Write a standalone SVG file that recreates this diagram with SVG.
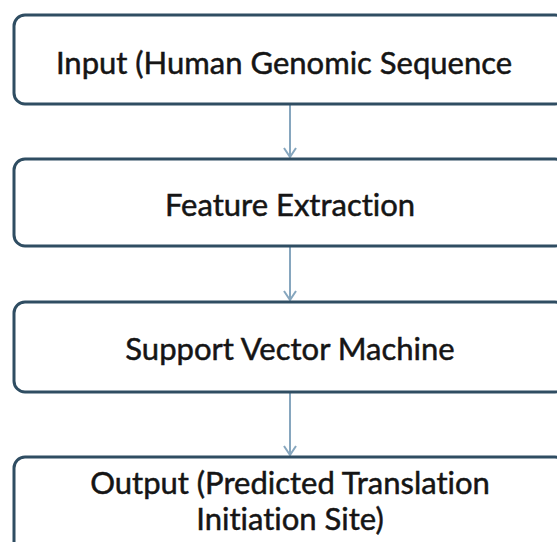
<svg xmlns="http://www.w3.org/2000/svg" width="557" height="542" viewBox="0 0 557 542">
  <defs>
    <style>
      .box { fill: #ffffff; stroke: #2f4d62; stroke-width: 3; }
      .label { font-family: Lato, "Open Sans", "Liberation Sans", sans-serif; font-size: 31px; fill: #151515; stroke: #151515; stroke-width: 0.5; text-anchor: middle; font-variant-ligatures: none; font-feature-settings: "liga" 0, "dlig" 0; }
      .link { stroke: #86a6be; stroke-width: 2; fill: none; }
    </style>
    <marker id="chevron" viewBox="0 0 12 14" refX="11" refY="7" markerWidth="12" markerHeight="14" markerUnits="userSpaceOnUse" orient="auto">
      <path d="M2 1 L11 7 L2 13" fill="none" stroke="#86a6be" stroke-width="2"/>
    </marker>
  </defs>
  <rect width="557" height="542" fill="#ffffff"/>

  <g id="connectors">
    <line class="link" x1="290" y1="105" x2="290" y2="157" marker-end="url(#chevron)"/>
    <line class="link" x1="290" y1="247" x2="290" y2="300" marker-end="url(#chevron)"/>
    <line class="link" x1="290" y1="393" x2="290" y2="455" marker-end="url(#chevron)"/>
  </g>

  <g id="input">
    <rect class="box" x="14" y="15" width="552" height="89" rx="11"/>
    <text class="label" x="284" y="74">Input (Human Genomic Sequence</text>
  </g>
  <g id="feature-extraction">
    <rect class="box" x="14" y="159" width="552" height="87" rx="11"/>
    <text class="label" x="290" y="216">Feature Extraction</text>
  </g>
  <g id="svm">
    <rect class="box" x="14" y="302" width="552" height="90" rx="11"/>
    <text class="label" x="290" y="360">Support Vector Machine</text>
  </g>
  <g id="output">
    <rect class="box" x="14" y="457" width="552" height="100" rx="11"/>
    <text class="label" x="290" y="494">Output (Predicted Translation</text>
    <text class="label" x="290" y="530">Initiation Site)</text>
  </g>
</svg>
